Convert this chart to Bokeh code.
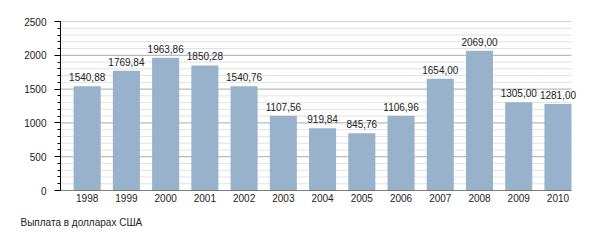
from bokeh.plotting import figure
from bokeh.models import ColumnDataSource, SingleIntervalTicker, FixedTicker, Title, Range1d
from bokeh.core.properties import value
from bokeh.embed import file_html
from bokeh.resources import INLINE

years = ["1998", "1999", "2000", "2001", "2002", "2003", "2004", "2005", "2006", "2007", "2008", "2009", "2010"]
payouts = [1540.88, 1769.84, 1963.86, 1850.28, 1540.76, 1107.56, 919.84, 845.76, 1106.96, 1654.00, 2069.00, 1305.00, 1281.00]
value_labels = ["1540,88", "1769,84", "1963,86", "1850,28", "1540,76", "1107,56", "919,84", "845,76", "1106,96", "1654,00", "2069,00", "1305,00", "1281,00"]
caption = "Выплата в долларах США"
y_max = 2500
y_major = 500
y_minor = 100

idx = list(range(len(years)))
src = ColumnDataSource(dict(x=idx, top=payouts, lab=value_labels))

FONT = "Liberation Sans"
x_start = -0.68
x_plot_end = len(years) - 1 + 0.345   # where the gridlines / axis end
px_per_unit = 511 / (x_plot_end - x_start)
x_end = x_start + 540 / px_per_unit    # frame extended so right-most label is not clipped

p = figure(width=600, height=250, output_backend="svg", toolbar_location=None,
           x_range=Range1d(x_start, x_end), y_range=Range1d(0, y_max),
           min_border_left=60, min_border_right=0, min_border_top=21, min_border_bottom=60)
p.outline_line_color = None
p.background_fill_color = "white"

# gridlines (limited to the plotting area)
grid_minor = [v for v in range(0, y_max + 1, y_minor) if v % y_major != 0]
grid_major = [v for v in range(y_major, y_max + 1, y_major)]
p.segment(x0=[x_start] * len(grid_minor), x1=[x_plot_end] * len(grid_minor), y0=grid_minor, y1=grid_minor,
          line_color="#e2e2e2", line_width=1)
p.segment(x0=[x_start] * len(grid_major), x1=[x_plot_end] * len(grid_major), y0=grid_major, y1=grid_major,
          line_color="#aaaaaa", line_width=1)

p.vbar(x="x", top="top", width=0.69, source=src, fill_color="#98b2cb", line_color=None)
p.text(x="x", y="top", text="lab", source=src, text_align="center", text_baseline="alphabetic",
       y_offset=-9, text_font=value(FONT), text_font_size="10px", text_color="#222222")

# bottom axis line
p.segment(x0=[x_start], x1=[x_plot_end], y0=[0], y1=[0], line_color="black", line_width=1)

# y axis
p.yaxis.ticker = SingleIntervalTicker(interval=y_major, num_minor_ticks=5)
p.yaxis.axis_line_color = "black"
p.yaxis.major_tick_line_color = "black"
p.yaxis.minor_tick_line_color = "black"
p.yaxis.major_tick_out = 6
p.yaxis.major_tick_in = 0
p.yaxis.minor_tick_out = 3
p.yaxis.minor_tick_in = 0
p.yaxis.major_label_standoff = 8
p.yaxis.major_label_text_font = FONT
p.yaxis.major_label_text_font_size = "10px"
p.yaxis.major_label_text_color = "#222222"

# x axis
p.xaxis.ticker = FixedTicker(ticks=idx)
p.xaxis.major_label_overrides = {i: y for i, y in zip(idx, years)}
p.xaxis.axis_line_color = None
p.xaxis.major_tick_line_color = None
p.xaxis.minor_tick_line_color = None
p.xaxis.major_tick_out = 0
p.xaxis.major_tick_in = 0
p.xaxis.major_label_standoff = 3
p.xaxis.major_label_text_font = FONT
p.xaxis.major_label_text_font_size = "10px"
p.xaxis.major_label_text_color = "#222222"

p.xgrid.grid_line_color = None
p.ygrid.grid_line_color = None

cap = Title(text=caption, align="left", offset=-40, standoff=20,
            text_font=FONT, text_font_size="10px", text_color="#222222", text_font_style="normal")
p.add_layout(cap, "below")

open("out.html", "w").write(file_html(p, INLINE))
